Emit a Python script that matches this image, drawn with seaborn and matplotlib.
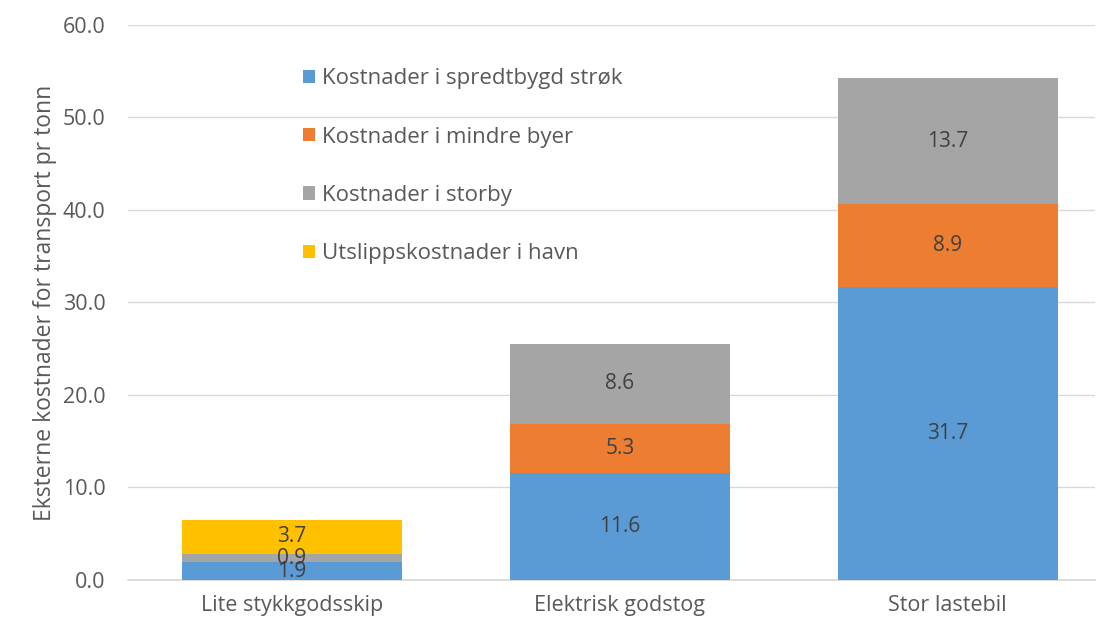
import matplotlib
matplotlib.use("Agg")
import matplotlib.pyplot as plt
from matplotlib.patches import Patch
import numpy as np
import pandas as pd
import seaborn as sns

categories = ["Lite stykkgodsskip", "Elektrisk godstog", "Stor lastebil"]
series_names = [
    "Kostnader i spredtbygd strøk",
    "Kostnader i mindre byer",
    "Kostnader i storby",
    "Utslippskostnader i havn",
]
spredtbygd = [1.9, 11.6, 31.7]
mindre_byer = [0.0, 5.3, 8.9]
storby = [0.9, 8.6, 13.7]
havn = [3.7, 0.0, 0.0]
yticks = [0, 10, 20, 30, 40, 50, 60]
ylabel = "Eksterne kostnader for transport pr tonn"

colors = ["#5B9BD5", "#ED7D31", "#A5A5A5", "#FFC000"]

sns.set_theme(style="white")
plt.rcParams["font.family"] = ["Open Sans", "DejaVu Sans"]

fig = plt.figure(figsize=(11.03, 6.3), dpi=100)
ax = fig.add_axes([0.116, 0.0794, 0.877, 0.881])

series = [spredtbygd, mindre_byer, storby, havn]
bottom = np.zeros(len(categories))
for name, vals, col in zip(series_names, series, colors):
    df = pd.DataFrame({"kategori": categories, "verdi": vals})
    sns.barplot(data=df, x="kategori", y="verdi", bottom=bottom, color=col,
                width=0.67, ax=ax, zorder=3, saturation=1, errorbar=None,
                edgecolor="none", linewidth=0)
    for i, v in enumerate(vals):
        if v > 0:
            ax.text(i, bottom[i] + v / 2, f"{v:.1f}", ha="center", va="center",
                    fontsize=15, color="#404040", zorder=4)
    bottom = bottom + np.array(vals)

ax.set_ylim(0, 60)
ax.set_xlim(-0.5, 2.45)
ax.set_yticks(yticks)
ax.set_yticklabels([f"{t:.1f}" for t in yticks])
ax.yaxis.grid(True, color="#D9D9D9", linewidth=1, zorder=0)
ax.xaxis.grid(False)
for s in ["top", "right", "left"]:
    ax.spines[s].set_visible(False)
ax.spines["bottom"].set_color("#D9D9D9")
ax.tick_params(axis="both", length=0, colors="#595959", labelsize=15.5)
ax.tick_params(axis="y", pad=16)
ax.tick_params(axis="x", pad=11)
ax.set_xlabel("")
ax.set_ylabel(ylabel, fontsize=16.5, color="#595959", labelpad=4)

handles = [Patch(facecolor=c, edgecolor="none") for c in colors]
leg = ax.legend(handles, series_names, loc="upper left", bbox_to_anchor=(0.16, 0.958),
                frameon=False, fontsize=16, labelspacing=1.68, handlelength=0.55,
                handleheight=0.55, handletextpad=0.3)
for t in leg.get_texts():
    t.set_color("#595959")

fig.savefig("out.png", dpi=100)
